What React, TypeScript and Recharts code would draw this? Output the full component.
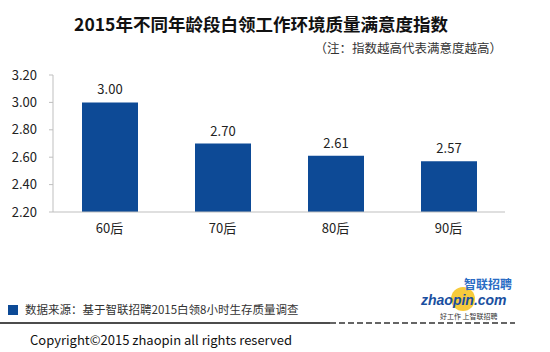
import React from 'react';
import { BarChart, Bar, XAxis, YAxis, LabelList } from 'recharts';

const categories = ['60后', '70后', '80后', '90后'];
const indexValues = [3.0, 2.7, 2.61, 2.57];
const yTicks = [2.2, 2.4, 2.6, 2.8, 3.0, 3.2];

const title = '2015年不同年龄段白领工作环境质量满意度指数';
const note = '（注：指数越高代表满意度越高）';
const source = '数据来源：基于智联招聘2015白领8小时生存质量调查';
const copyright = 'Copyright©2015 zhaopin all rights reserved';

const FONT = '"Noto Sans CJK SC", "Noto Sans", sans-serif';
const BAR_BLUE = '#0D4A96';

const data = categories.map((name, i) => ({ name, value: indexValues[i] }));

const App: React.FC = () => {
  return (
    <div
      style={{
        position: 'absolute',
        left: 0,
        top: 0,
        width: 550,
        height: 352,
        background: '#fff',
        fontFamily: FONT,
        overflow: 'hidden',
      }}
    >
      <div
        style={{
          position: 'absolute',
          left: 0,
          width: 522,
          top: 12,
          textAlign: 'center',
          fontSize: 17.5,
          fontWeight: 700,
          color: '#111',
          lineHeight: '24px',
        }}
      >
        {title}
      </div>
      <div
        style={{
          position: 'absolute',
          right: 48,
          top: 40,
          fontSize: 12.5,
          color: '#333',
          lineHeight: '16px',
        }}
      >
        {note}
      </div>

      <div style={{ position: 'absolute', left: 0, top: 0 }}>
        <BarChart
          width={550}
          height={250}
          data={data}
          margin={{ top: 75, right: 45, bottom: 8, left: 0 }}
          barCategoryGap="50%"
        >
          <XAxis
            dataKey="name"
            axisLine={{ stroke: '#bfbfbf' }}
            tickLine={false}
            tick={{ fill: '#222', fontSize: 13, fontFamily: FONT }}
            dy={4}
            height={30}
          />
          <YAxis
            domain={[2.2, 3.2]}
            ticks={yTicks}
            interval={0}
            width={53}
            axisLine={{ stroke: '#bfbfbf' }}
            tickLine={{ stroke: '#bfbfbf' }}
            tickSize={4}
            tickMargin={12}
            tickFormatter={(v: number) => v.toFixed(2)}
            tick={{ fill: '#222', fontSize: 13, fontFamily: FONT }}
          />
          <Bar dataKey="value" fill={BAR_BLUE} barSize={56} isAnimationActive={false}>
            <LabelList
              dataKey="value"
              position="top"
              offset={8}
              formatter={(v: number) => v.toFixed(2)}
              style={{ fill: '#222', fontSize: 13, fontFamily: FONT }}
            />
          </Bar>
        </BarChart>
      </div>

      {/* footer */}
      <div
        style={{
          position: 'absolute',
          left: 8,
          top: 305,
          width: 10,
          height: 10,
          background: BAR_BLUE,
        }}
      />
      <div
        style={{
          position: 'absolute',
          left: 25,
          top: 301,
          fontSize: 11.5,
          color: '#333',
          lineHeight: '16px',
        }}
      >
        {source}
      </div>
      <svg
        width={550}
        height={352}
        style={{ position: 'absolute', left: 0, top: 0, pointerEvents: 'none' }}
      >
        <line x1={0} y1={323} x2={330} y2={323} stroke="#111" strokeWidth={1.5} />
        <line
          x1={330}
          y1={323}
          x2={515}
          y2={323}
          stroke="#333"
          strokeWidth={1.5}
          strokeDasharray="6 3"
        />
        {/* logo */}
        <circle cx={463} cy={299} r={12} fill="#f6c21a" opacity={0.85} />
        <text x={512} y={289} textAnchor="end" fontSize={12} fontWeight={700} fill="#2a6cc4" fontFamily={FONT}>
          智联招聘
        </text>
        <text x={421} y={305} fontSize={14} fontWeight={700} fontStyle="italic" fill="#1a4fa0" fontFamily="Liberation Sans, sans-serif">
          zhaopin.com
        </text>
        <text x={440} y={319} fontSize={7} fill="#333" fontFamily={FONT}>
          好工作 上智联招聘
        </text>
      </svg>
      <div
        style={{
          position: 'absolute',
          left: 30,
          top: 331,
          fontSize: 13,
          color: '#111',
          lineHeight: '18px',
        }}
      >
        {copyright}
      </div>
    </div>
  );
};

export default App;
